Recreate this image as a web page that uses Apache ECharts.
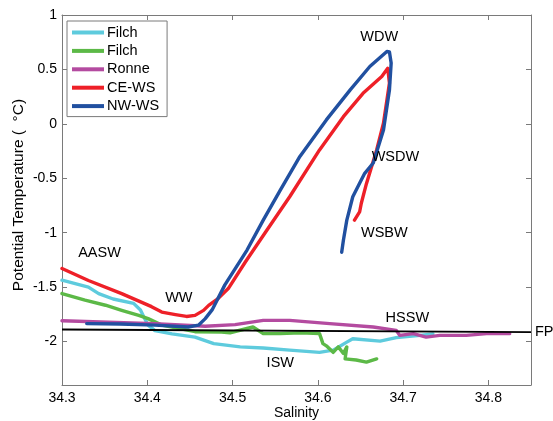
<!DOCTYPE html>
<html>
<head>
<meta charset="utf-8">
<script src="https://cdn.jsdelivr.net/npm/echarts@6/dist/echarts.min.js"></script>
<style>
  html, body { margin: 0; padding: 0; background: #fff; }
  #chart { width: 553px; height: 421px; }
</style>
</head>
<body>
<div id="chart"></div>
<script>
// Theta-S profiles: [salinity, potential temperature]
const filchA = [[34.300,-1.437],[34.331,-1.50],[34.343,-1.56],[34.360,-1.61],[34.384,-1.65],[34.392,-1.71],[34.396,-1.775],[34.401,-1.85],[34.409,-1.90],[34.429,-1.93],[34.456,-1.96],[34.478,-2.02],[34.509,-2.05],[34.536,-2.06],[34.567,-2.08],[34.602,-2.10],[34.618,-2.08],[34.634,-2.006],[34.641,-1.975],[34.673,-1.997],[34.692,-1.965],[34.720,-1.944],[34.735,-1.93]];
const filchB = [[34.300,-1.56],[34.327,-1.62],[34.351,-1.667],[34.370,-1.714],[34.390,-1.76],[34.401,-1.79],[34.417,-1.85],[34.456,-1.91],[34.487,-1.913],[34.497,-1.92],[34.524,-1.867],[34.536,-1.928],[34.556,-1.928],[34.580,-1.92],[34.602,-1.928],[34.606,-2.02],[34.610,-2.04],[34.618,-2.10],[34.624,-2.05],[34.630,-2.11],[34.634,-2.05],[34.632,-2.16],[34.645,-2.17],[34.657,-2.19],[34.669,-2.16]];
const ronne = [[34.300,-1.81],[34.409,-1.836],[34.468,-1.86],[34.503,-1.845],[34.536,-1.806],[34.567,-1.806],[34.614,-1.836],[34.665,-1.867],[34.692,-1.898],[34.696,-1.944],[34.712,-1.928],[34.727,-1.96],[34.743,-1.944],[34.774,-1.944],[34.798,-1.928],[34.825,-1.928]];
const ceWS = [[34.300,-1.33],[34.331,-1.44],[34.370,-1.56],[34.405,-1.68],[34.417,-1.73],[34.433,-1.753],[34.446,-1.77],[34.456,-1.76],[34.466,-1.714],[34.472,-1.668],[34.483,-1.606],[34.495,-1.514],[34.515,-1.27],[34.540,-0.98],[34.567,-0.67],[34.602,-0.24],[34.630,0.066],[34.653,0.28],[34.675,0.435],[34.682,0.51],[34.684,0.374],[34.677,0.006],[34.669,-0.24],[34.657,-0.55],[34.651,-0.73],[34.649,-0.81],[34.643,-0.885]];
const nwWS = [[34.329,-1.836],[34.368,-1.84],[34.409,-1.85],[34.448,-1.867],[34.460,-1.85],[34.468,-1.79],[34.476,-1.71],[34.491,-1.48],[34.517,-1.16],[34.536,-0.885],[34.556,-0.61],[34.579,-0.30],[34.610,0.036],[34.638,0.312],[34.661,0.527],[34.681,0.665],[34.684,0.66],[34.686,0.558],[34.684,0.31],[34.677,-0.056],[34.665,-0.36],[34.655,-0.455],[34.649,-0.547],[34.641,-0.67],[34.634,-0.885],[34.630,-1.07],[34.628,-1.18]];
// surface freezing point line
const freezingPoint = [[34.30,-1.89],[34.85,-1.915]];

const seriesNames = ['Filch', 'Filch ', 'Ronne', 'CE-WS', 'NW-WS'];
const seriesColors = ['#5ecbdd', '#5cb947', '#b44ba0', '#ee2028', '#2150a0'];
const xTicks = [34.3, 34.4, 34.5, 34.6, 34.7, 34.8];
const yTicks = [-2, -1.5, -1, -0.5, 0, 0.5, 1];

// water mass annotations [label, salinity, temperature]
const waterMasses = [['AASW',34.344,-1.19],['WW',34.437,-1.605],['WDW',34.672,0.80],['WSDW',34.691,-0.304],['WSBW',34.678,-1.004],['HSSW',34.705,-1.787],['ISW',34.556,-2.20]];

const FONT = 'Liberation Sans, Arial, Helvetica, sans-serif';
const AXIS_GRAY = '#7a7a7a';

const chart = echarts.init(document.getElementById('chart'), null, { renderer: 'canvas' });

const profiles = [filchA, filchB, ronne, ceWS, nwWS];
const lineSeries = profiles.map((d, i) => ({
  name: seriesNames[i],
  type: 'line',
  data: d,
  showSymbol: false,
  symbol: 'none',
  lineStyle: { color: seriesColors[i], width: 3.4, join: 'round', cap: 'round' },
  itemStyle: { color: seriesColors[i] },
  z: 2 + i,
  animation: false
}));

const baseX = {
  type: 'value', min: 34.3, max: 34.85,
  axisLine: { show: true, onZero: false, lineStyle: { color: AXIS_GRAY, width: 1 } },
  axisTick: { show: true, inside: true, length: 5, customValues: xTicks, lineStyle: { color: AXIS_GRAY } },
  splitLine: { show: false }
};
const baseY = {
  type: 'value', min: -2.4, max: 1,
  axisLine: { show: true, onZero: false, lineStyle: { color: AXIS_GRAY, width: 1 } },
  axisTick: { show: true, inside: true, length: 5, customValues: yTicks, lineStyle: { color: AXIS_GRAY } },
  splitLine: { show: false }
};

chart.setOption({
  backgroundColor: '#ffffff',
  animation: false,
  textStyle: { fontFamily: FONT },
  grid: { left: 62, right: 22, top: 15, bottom: 36, containLabel: false, outerBoundsMode: 'none' },
  legend: {
    data: seriesNames,
    left: 67, top: 21,
    orient: 'vertical',
    icon: 'rect',
    itemWidth: 32, itemHeight: 4,
    itemGap: 3.4,
    padding: [4, 8, 3, 5],
    backgroundColor: '#ffffff',
    borderColor: AXIS_GRAY, borderWidth: 1, borderRadius: 0,
    textStyle: { fontFamily: FONT, fontSize: 14.5, color: '#000', padding: [0, 0, 0, -2] },
    z: 20
  },
  xAxis: [
    Object.assign({}, baseX, {
      position: 'bottom',
      name: 'Salinity', nameLocation: 'middle', nameGap: 21, nameMoveOverlap: false,
      nameTextStyle: { fontFamily: FONT, fontSize: 14, color: '#000' },
      axisLabel: { show: true, customValues: xTicks, margin: 6, fontSize: 14, color: '#000', fontFamily: FONT,
        formatter: v => v.toFixed(1) }
    }),
    Object.assign({}, baseX, { position: 'top', axisLabel: { show: false } })
  ],
  yAxis: [
    Object.assign({}, baseY, {
      position: 'left',
      name: 'Potential Temperature (  \u00B0C)', nameLocation: 'middle', nameGap: 35, nameMoveOverlap: false,
      nameTextStyle: { fontFamily: FONT, fontSize: 15.5, color: '#000', padding: [0, 0, 0, 10] },
      axisLabel: { show: true, customValues: yTicks, margin: 5, fontSize: 14, color: '#000', fontFamily: FONT,
        formatter: v => String(v) }
    }),
    Object.assign({}, baseY, { position: 'right', axisLabel: { show: false } })
  ],
  series: lineSeries.concat([
    {
      name: 'FP',
      type: 'line',
      data: freezingPoint,
      symbol: 'none',
      lineStyle: { color: '#000', width: 1.8 },
      z: 10,
      endLabel: { show: true, formatter: 'FP', fontSize: 14.5, color: '#000', fontFamily: FONT, distance: 4 },
      animation: false
    }
  ])
});

// water mass names, placed at their theta-S positions
chart.setOption({
  graphic: waterMasses.map(w => {
    const p = chart.convertToPixel({ xAxisIndex: 0, yAxisIndex: 0 }, [w[1], w[2]]);
    return {
      type: 'text', x: p[0], y: p[1], z: 100, silent: true,
      style: { text: w[0], fill: '#000', fontSize: 14.5, fontFamily: FONT, align: 'center', verticalAlign: 'middle' }
    };
  })
});
</script>
</body>
</html>
